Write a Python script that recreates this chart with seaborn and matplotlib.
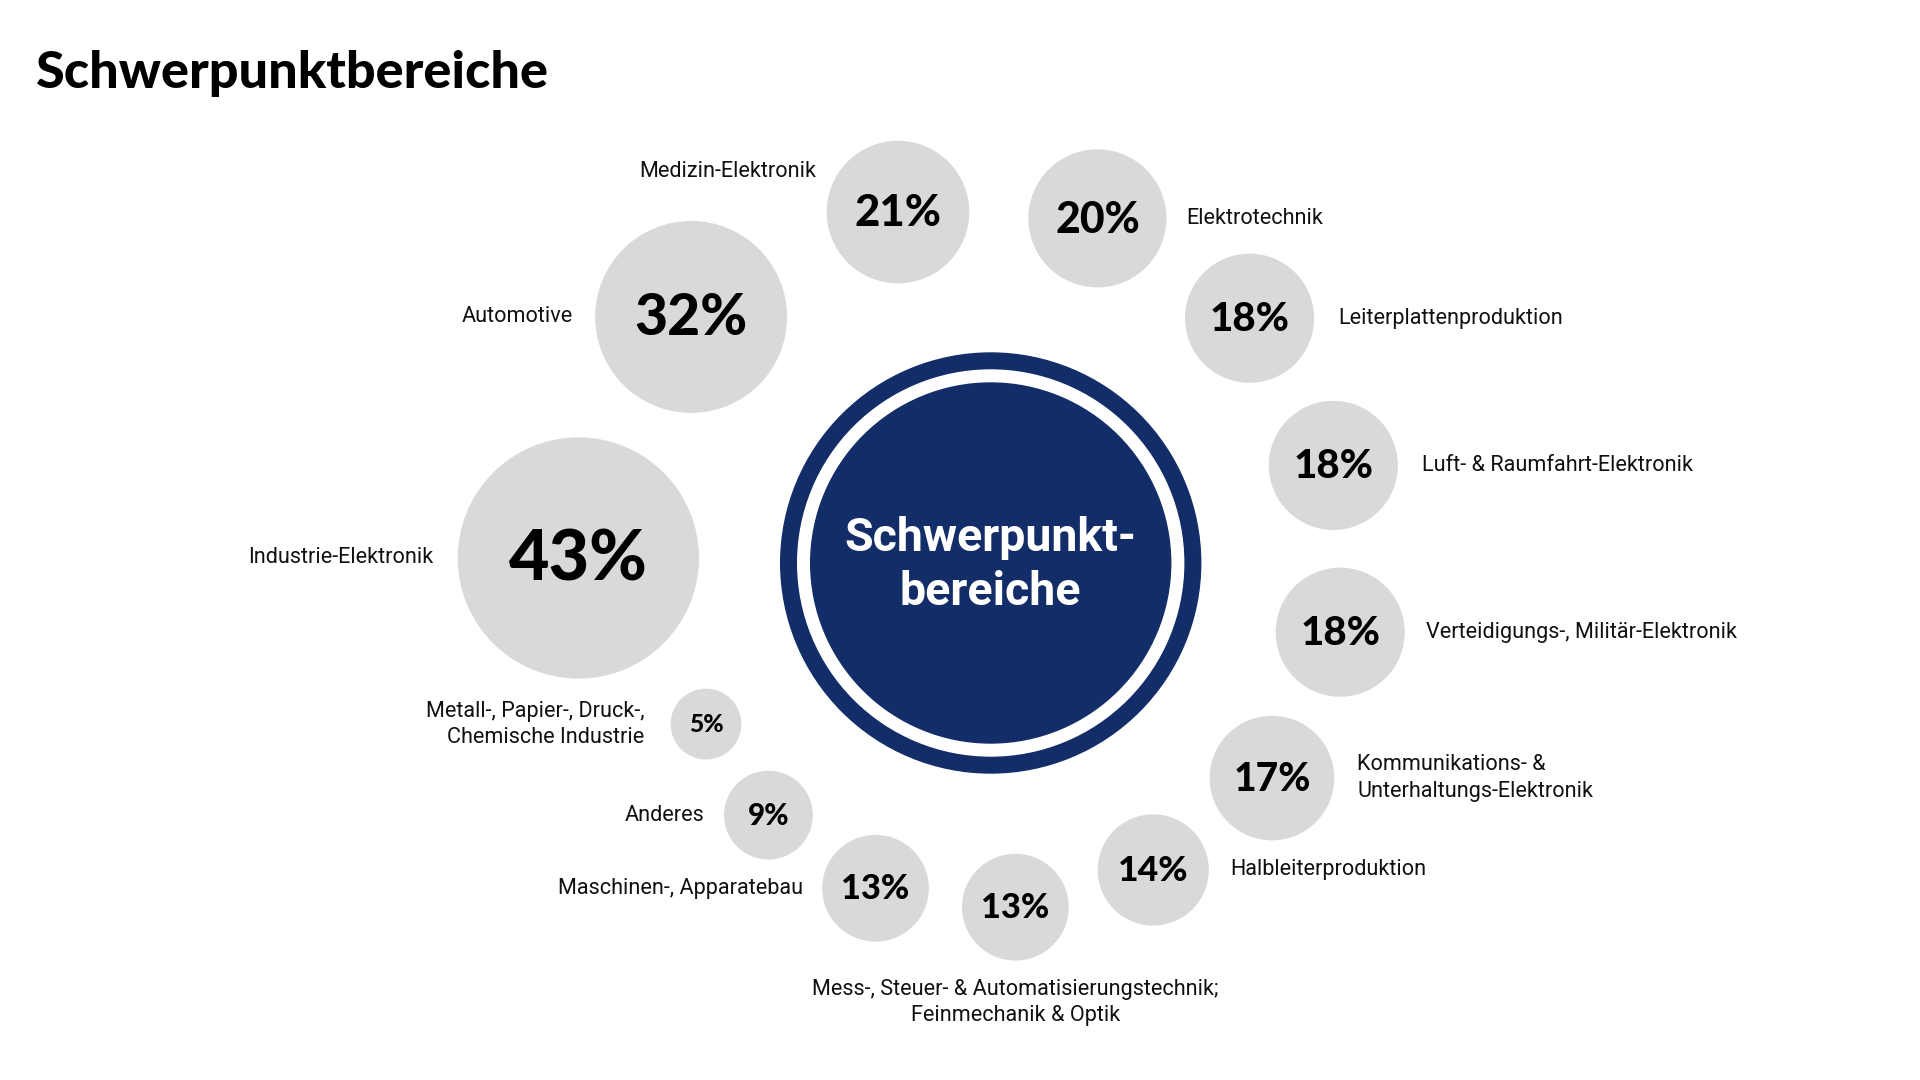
import numpy as np
import pandas as pd
import matplotlib
matplotlib.use("Agg")
import matplotlib.pyplot as plt
from matplotlib.patches import Circle
import seaborn as sns

# ---------------- data ----------------
title = "Schwerpunktbereiche"
center_label = "Schwerpunkt-\nbereiche"
categories = [
    "Industrie-Elektronik",
    "Automotive",
    "Medizin-Elektronik",
    "Elektrotechnik",
    "Leiterplattenproduktion",
    "Luft- & Raumfahrt-Elektronik",
    "Verteidigungs-, Militär-Elektronik",
    "Kommunikations- &\nUnterhaltungs-Elektronik",
    "Halbleiterproduktion",
    "Mess-, Steuer- & Automatisierungstechnik;\nFeinmechanik & Optik",
    "Maschinen-, Apparatebau",
    "Anderes",
    "Metall-, Papier-, Druck-,\nChemische Industrie",
]
shares = [43, 32, 21, 20, 18, 18, 18, 17, 14, 13, 13, 9, 5]

# ---------------- layout / style ----------------
angles_deg = [179.3, 140.6, 104.8, 72.8, 43.4, 15.9, -11.2, -37.4, -62.1, -85.9, -109.5, -131.4, -150.5]
label_side = ["left", "left", "left", "right", "right", "right", "right", "right",
              "right", "below", "left", "left", "left"]
label_dy = [0, 0, -41, 0, 0, 0, 0, 0, 0, 0, 0, 0, 0]
label_gap = [24, 22, 10, 20, 24, 24, 21, 23, 21, 18, 19, 20, 26]

NAVY = "#132d69"
GREY = "#d9d9d9"
INK = "#111111"
HEAVY = ["Lato", "Roboto", "DejaVu Sans"]
CX, CY = 990.7, 563.0
INNER_GAP = 291.7
DPI = 100


def radius(v):
    return 24.2 + 2.243 * v


sns.set_style("white")
plt.rcParams["font.family"] = ["Roboto", "DejaVu Sans"]

fig = plt.figure(figsize=(19.2, 10.8), dpi=DPI)
ax = fig.add_axes([0, 0, 1, 1])

r_arr = np.array([radius(v) for v in shares])
ang = np.deg2rad(np.array(angles_deg))
dist = INNER_GAP + r_arr
df = pd.DataFrame({
    "category": categories,
    "share": shares,
    "x": CX + dist * np.cos(ang),
    "y": CY - dist * np.sin(ang),
})

size_map = {v: (2 * radius(v) * 72 / DPI) ** 2 for v in sorted(set(shares))}
sns.scatterplot(data=df, x="x", y="y", size="share", sizes=size_map,
                color=GREY, linewidth=0, edgecolor="none", legend=False,
                ax=ax, zorder=2)

# central medallion
ax.add_patch(Circle((CX, CY), 210, color=NAVY, zorder=3))
ax.add_patch(Circle((CX, CY), 193, color="white", zorder=3))
ax.add_patch(Circle((CX, CY), 180, color=NAVY, zorder=3))
ax.text(CX, CY + 2, center_label, ha="center", va="center", color="white",
        fontsize=33.5, fontweight="bold", linespacing=1.3, zorder=4)

for (_, row), r, side, dy, gap in zip(df.iterrows(), r_arr, label_side, label_dy, label_gap):
    fs_px = 6 + 0.53 * r
    ax.text(row.x, row.y + 0.02 * r, f"{row.share}%", ha="center", va="center",
            fontsize=fs_px * 0.72, fontweight="black", family=HEAVY,
            color="black", zorder=4)
    kw = dict(fontsize=15.6, color=INK, linespacing=1.32)
    if side == "left":
        ax.text(row.x - r - gap, row.y + dy, row.category, ha="right", va="center",
                multialignment="right", **kw)
    elif side == "right":
        ax.text(row.x + r + gap, row.y + dy, row.category, ha="left", va="center",
                multialignment="left", **kw)
    else:
        ax.text(row.x, row.y + r + gap, row.category, ha="center", va="top",
                multialignment="center", **kw)

ax.text(35.7, 88, title, ha="left", va="baseline", fontsize=37.5,
        fontweight="black", family=HEAVY, color="black")

ax.set_xlim(0, 1920)
ax.set_ylim(1080, 0)
ax.set_aspect("equal")
ax.axis("off")

fig.savefig("out.png", dpi=DPI, facecolor="white")
